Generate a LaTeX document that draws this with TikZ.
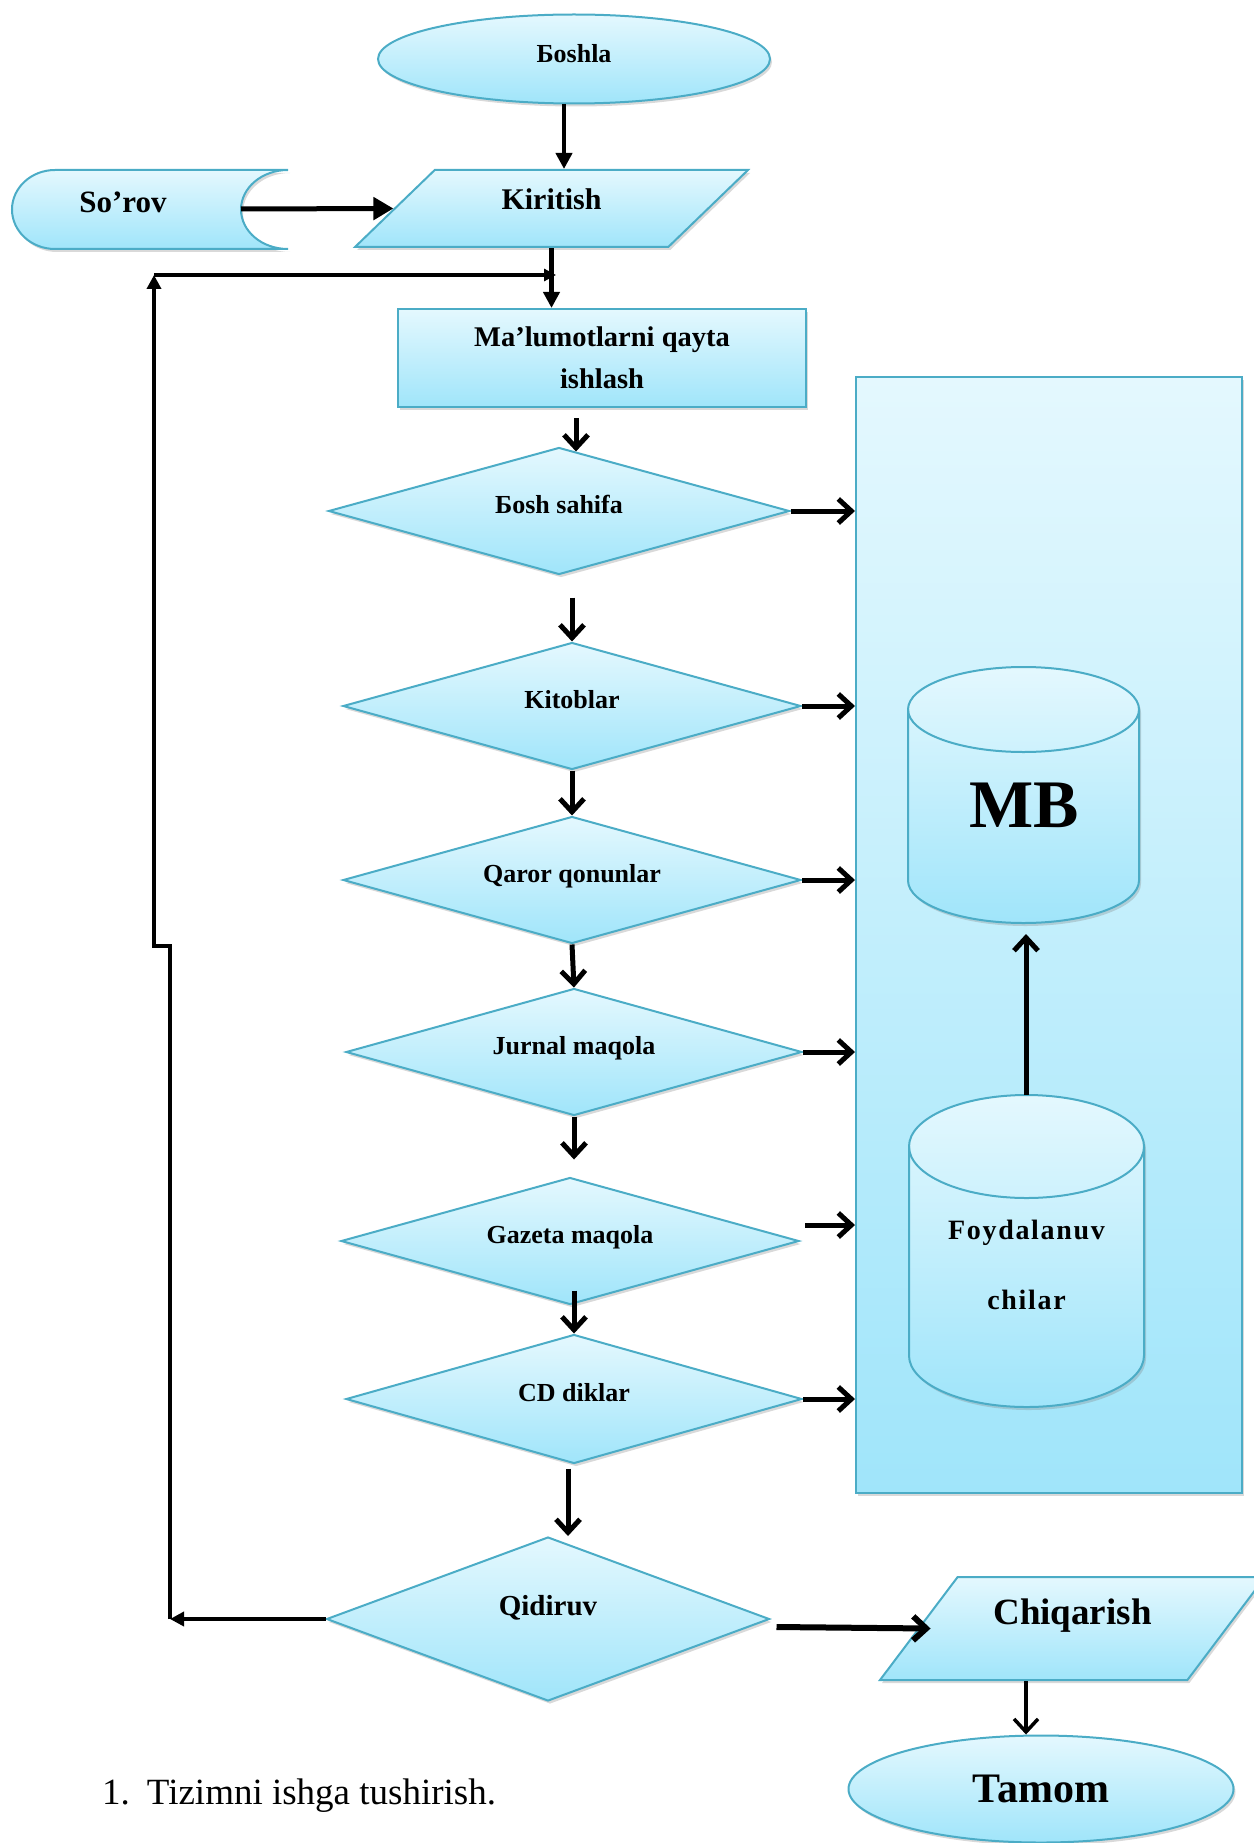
\documentclass[tikz,border=0pt]{standalone}
\usepackage{fontspec}
\setmainfont{Liberation Serif}
\usetikzlibrary{shapes.geometric,arrows.meta,shadows}
\definecolor{chiziq}{RGB}{75,172,198}
\definecolor{och}{RGB}{228,248,254}
\definecolor{toq}{RGB}{160,229,250}
\newcommand{\shr}[2]{\fontsize{#1}{#2}\selectfont}
% silindr: chap, o'ng, yuqori, past, ellips radiusi
\newcommand{\silindr}[5]{%
\path[blk] (#1,{#3+#5}) -- (#1,{#4-#5})
 .. controls (#1,{#4-0.448*#5}) and ({0.5*(#1+#2)-0.276*(#2-#1)},#4) .. ({0.5*(#1+#2)},#4)
 .. controls ({0.5*(#1+#2)+0.276*(#2-#1)},#4) and (#2,{#4-0.448*#5}) .. (#2,{#4-#5})
 -- (#2,{#3+#5})
 .. controls (#2,{#3+0.448*#5}) and ({0.5*(#1+#2)+0.276*(#2-#1)},#3) .. ({0.5*(#1+#2)},#3)
 .. controls ({0.5*(#1+#2)-0.276*(#2-#1)},#3) and (#1,{#3+0.448*#5}) .. (#1,{#3+#5}) -- cycle;
\draw[chiziq,line width=2pt] (#1,{#3+#5})
 .. controls (#1,{#3+1.552*#5}) and ({0.5*(#1+#2)-0.276*(#2-#1)},{#3+2*#5}) .. ({0.5*(#1+#2)},{#3+2*#5})
 .. controls ({0.5*(#1+#2)+0.276*(#2-#1)},{#3+2*#5}) and (#2,{#3+1.552*#5}) .. (#2,{#3+#5});}
\tikzset{
blk/.style={draw=chiziq,line width=2pt,top color=och,bottom color=toq,inner sep=0pt,align=center,
 drop shadow={shadow xshift=2pt,shadow yshift=-3pt,opacity=0.3}},
rmb/.style={blk,diamond,aspect=3.6,minimum width=458pt,minimum height=127pt,text height=18pt,text depth=14pt,
 font=\bfseries\shr{26}{31}},
bar/.style={line width=5pt,-{Straight Barb[length=13pt,width=24pt]}},
uch/.style={line width=4.5pt,-{Triangle[length=16pt,width=16pt]}},
}
\begin{document}
\begin{tikzpicture}[x=1pt,y=-1pt]
\useasboundingbox (0,0) rectangle (1253,1843);
\node[blk,rectangle,minimum width=386pt,minimum height=1116pt] (mbq) at (1049,935) {};
\node[blk,ellipse,minimum width=392pt,minimum height=89pt,text depth=12pt,font=\bfseries\shr{26}{31}] (boshla) at (574,59) {Бoshla};
\path[blk] (55,170) -- (288,170) .. controls (262,170) and (241,187.7) .. (241,209.5)
 .. controls (241,231.3) and (262,249) .. (288,249) -- (55,249)
 .. controls (31.3,249) and (12,231.3) .. (12,209.5) .. controls (12,187.7) and (31.3,170) .. (55,170) -- cycle;
\node[font=\bfseries\shr{31}{37}] (sorov) at (123,202) {So’rov};
\coordinate (sorovR) at (241,209);
\node[blk,trapezium,trapezium left angle=44,trapezium right angle=136,trapezium stretches body,
 minimum width=393pt,text height=21pt,text depth=18pt,inner ysep=19pt,font=\bfseries\shr{30}{36}] (kir) at (551.5,208.5) {Kiritish};
\node[blk,rectangle,minimum width=408pt,minimum height=98pt,font=\bfseries\shr{28.5}{42}] (mal) at (602,358) {Ma’lumotlarni qayta\\ishlash};
\node[rmb,minimum width=461pt] (bshs) at (559,511) {Бosh sahifa};
\node[rmb] (kitob) at (572,706) {Kitoblar};
\node[rmb] (qaror) at (572,880) {Qaror qonunlar};
\node[rmb,minimum width=456pt] (jurnal) at (574,1052) {Jurnal maqola};
\node[rmb] (gazeta) at (570,1241) {Gazeta maqola};
\node[rmb,minimum width=456pt,minimum height=129pt] (cd) at (574,1399) {CD diklar};
\node[rmb,aspect=2.7,minimum width=443pt,minimum height=164pt,text height=19pt,text depth=26pt,
 font=\bfseries\shr{29}{35}] (qidir) at (548,1619) {Qidiruv};
\node[blk,trapezium,trapezium left angle=53,trapezium right angle=127,trapezium stretches body,
 minimum width=385pt,text height=25pt,text depth=34pt,inner ysep=22pt,font=\bfseries\shr{37}{44}] (chiq) at (1072.5,1628.5) {Chiqarish};
\node[blk,ellipse,minimum width=385pt,minimum height=107pt,font=\bfseries\shr{42}{50}] (tamom) at (1041,1789) {Tamom};
\silindr{908}{1139}{667}{923}{42.5}
\node[font=\bfseries\shr{68}{80}] (mb) at (1024,805) {MB};
\coordinate (mbB) at (1026,934);
\silindr{909}{1144}{1095}{1407}{51.5}
\node[align=center,font=\bfseries\shr{28}{70}\addfontfeatures{LetterSpace=6}] (foyd) at (1026.5,1265) {Foydalanuv\\chilar};
\coordinate (foydT) at (1026,1095);
\node[anchor=base west,inner sep=0pt,font=\shr{37}{44}] (band) at (102,1804) {1.\hspace{17pt}Tizimni ishga tushirish.};

\draw[uch] ([xshift=-10pt]boshla.south) -- ([xshift=-10pt]boshla.south |- kir.north);
\draw[uch,line width=5pt,-{Triangle[length=20pt,width=22pt]}] (sorovR) -- (kir.west);
\draw[uch] (kir.south) -- (kir.south |- mal.north);
\coordinate (q1) at (170,1619);
\coordinate (q2) at (170,946);
\coordinate (q3) at (154,946);
\coordinate (q4) at (154,275);
\coordinate (q5) at (556,275);
\draw[uch,-{Triangle[length=14pt,width=14pt]}] (qidir.west) -- (q1);
\draw[uch,line width=4pt,-{Triangle[length=14pt,width=14pt]}] (q1) -- (q2) -- (q3) -- (q4);
\draw[uch,line width=4pt,-{Triangle[length=12pt,width=12pt]}] (q4) -- (q5);
\draw[bar] ([xshift=-26pt,yshift=-10pt]mal.south) -- ([xshift=17pt,yshift=-5pt]bshs.north);
\draw[bar] ([yshift=-22pt]kitob.north |- bshs.south) -- (kitob.north);
\draw[bar] (kitob.south) -- (qaror.north);
\draw[bar] (qaror.south) -- (jurnal.north);
\draw[bar] (jurnal.south) -- ([yshift=17pt]jurnal.south |- gazeta.north);
\draw[bar] ([yshift=43pt]cd.north) -- (cd.north);
\draw[bar] ([xshift=-6pt,yshift=-4pt]cd.south) -- ([xshift=-6pt]cd.south |- qidir.north);
\draw[bar] (bshs.east) -- (bshs.east -| mbq.west);
\draw[bar] (kitob.east) -- (kitob.east -| mbq.west);
\draw[bar] (qaror.east) -- (qaror.east -| mbq.west);
\draw[bar] (jurnal.east) -- (jurnal.east -| mbq.west);
\draw[bar] ([xshift=5pt,yshift=16pt]gazeta.east) -- ([yshift=16pt]gazeta.east -| mbq.west);
\draw[bar] (cd.east) -- (cd.east -| mbq.west);
\draw[bar,line width=6pt] ([xshift=6pt,yshift=-8pt]qidir.east) -- ([xshift=13pt]chiq.west);
\draw[bar,line width=3.5pt] ([xshift=-46.5pt]chiq.south) -- ([xshift=-46.5pt]chiq.south |- tamom.north);
\draw[bar] (foydT) -- (mbB);
\end{tikzpicture}
\end{document}
